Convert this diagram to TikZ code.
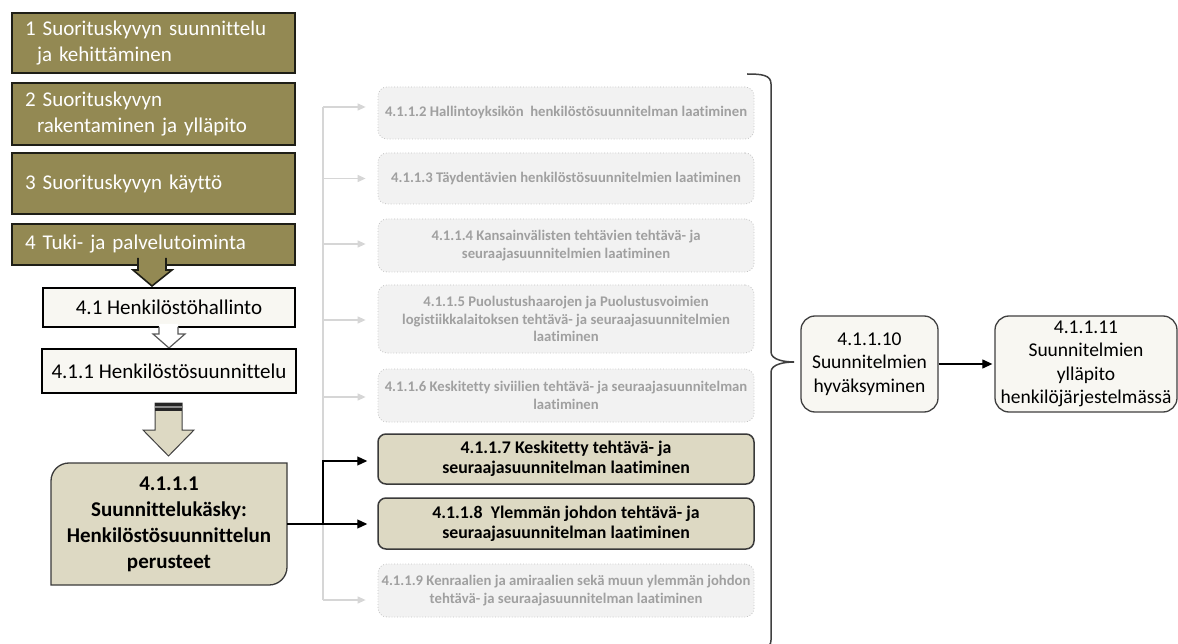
\documentclass[tikz,border=0pt]{standalone}
\usepackage{fontspec}
\setmainfont{Carlito}[Ligatures=CommonOff]
\usetikzlibrary{arrows.meta,calc}

\definecolor{olivefill}{HTML}{938953}
\definecolor{olivedark}{HTML}{1E1E16}
\definecolor{cream}{HTML}{F8F7F2}
\definecolor{tanfill}{HTML}{DDD9C3}
\definecolor{tanline}{HTML}{3A3A3A}
\definecolor{greyfill}{HTML}{F2F2F2}
\definecolor{greyline}{HTML}{C4C4C4}
\definecolor{greytext}{HTML}{A0A0A0}
\definecolor{greyconn}{HTML}{D6D6D6}
\definecolor{darkline}{HTML}{404040}

\newcommand\fsz[2]{\fontsize{#1}{#2}\selectfont}

\begin{document}
\begin{tikzpicture}[x=1pt,y=-1pt,
  olivebox/.style={draw=olivedark, line width=2.4pt, fill=olivefill, text=white,
    align=left, inner xsep=13pt, inner ysep=0pt, minimum width=283pt,
    text width=257pt, font=\fsz{21}{25.5}},
  creambox/.style={draw=black, line width=1.2pt, fill=cream, inner sep=0pt,
    font=\fsz{21}{25}},
  planbox/.style={inner sep=0pt, align=center, font=\bfseries\fsz{21}{26}},
  planshape/.style={draw=tanline, line width=1.3pt, fill=tanfill},
  greybox/.style={draw=greyline, dotted, line width=0.8pt, fill=greyfill,
    rounded corners=9pt, text=greytext, inner sep=0pt, align=center,
    minimum width=376pt, font=\bfseries\fsz{14.7}{17.5}},
  tanbox/.style={draw=tanline, line width=1.5pt, fill=tanfill, rounded corners=8pt,
    inner sep=0pt, align=center, minimum width=376pt, font=\bfseries\fsz{17.8}{20}},
  stagebox/.style={draw=darkline, line width=1.3pt, fill=cream, rounded corners=14pt,
    inner sep=0pt, align=center, minimum height=96pt, font=\fsz{19.5}{23.5}},
  greyarrow/.style={draw=greyconn, line width=1.2pt,
    -{Triangle[length=8pt,width=7pt,fill=greyconn]}, shorten >=12pt},
  blackarrow/.style={draw=black, line width=1.2pt,
    -{Triangle[length=10pt,width=9pt]}, shorten >=10pt},
  bracestyle/.style={draw=darkline, line width=1.5pt}
]
\fill[white] (0,0) rectangle (1178,644);
\path[use as bounding box] (0,0) rectangle (1178,644);

% main process levels
\node[olivebox, minimum height=60pt] (t1) at (153.5,43)
  {1 Suorituskyvyn suunnittelu\\\hspace*{12pt}ja kehittäminen};
\node[olivebox, minimum height=62pt] (t2) at (153.5,114)
  {2 Suorituskyvyn\\\hspace*{12pt}rakentaminen ja ylläpito};
\node[olivebox, minimum height=61pt] (t3) at (153.5,183.5) {3 Suorituskyvyn käyttö};
\node[olivebox, minimum height=41pt] (t4) at (153.5,244.5) {4 Tuki- ja palvelutoiminta};

% block arrow 4 -> 4.1
\fill[olivefill] (138,258) -- (166,258) -- (166,270) -- (172,270) -- (152,286)
  -- (133,270) -- (138,270) -- cycle;
\draw[olivedark, line width=1.6pt, line join=miter] (166,258) -- (166,270) -- (172,270)
  -- (152,286) -- (133,270) -- (138,270) -- (138,258);

\node[creambox, minimum width=252pt, minimum height=39pt] (h41) at (169,307.5)
  {4.1 Henkilöstöhallinto};

% hollow arrow 4.1 -> 4.1.1
\fill[white] (159,324) -- (178,324) -- (178,334) -- (185,334) -- (169,348)
  -- (153,334) -- (159,334) -- cycle;
\draw[black!65, line width=1.2pt] (178,327) -- (178,334) -- (185,334) -- (169,348)
  -- (153,334) -- (159,334) -- (159,327);

\node[creambox, line width=2pt, minimum width=254pt, minimum height=44pt] (h411)
  at (169,371) {4.1.1 Henkilöstösuunnittelu};

% wide arrow 4.1.1 -> 4.1.1.1
\draw[draw=darkline, fill=tanfill, line width=1pt] (155,403) -- (182,403) -- (182,430)
  -- (194,430) -- (168.5,456) -- (143,430) -- (155,430) -- cycle;
\fill[black!85] (155,403) rectangle (182,406);
\fill[black!45] (155,406) rectangle (182,407.8);
\fill[black!85] (155,407.8) rectangle (182,410.8);

% planning order box
\path[planshape] (51,585) -- (51,481) .. controls (51,471) and (59,463) .. (69,463)
  -- (287,463) -- (287,567) .. controls (287,577) and (279,585) .. (269,585) -- cycle;
\node[planbox, minimum width=236pt, minimum height=122pt] (plan) at (169,524)
  {4.1.1.1\\Suunnittelukäsky:\\Henkilöstösuunnittelun\\perusteet};

% sub-plans
\node[greybox, minimum height=52pt] (s2) at (566,113)
  {4.1.1.2 Hallintoyksikön~ henkilöstösuunnitelman laatiminen};
\node[greybox, minimum height=51pt] (s3) at (566,178.5)
  {4.1.1.3 Täydentävien henkilöstösuunnitelmien laatiminen};
\node[greybox, minimum height=53pt] (s4) at (566,245.5)
  {4.1.1.4 Kansainvälisten tehtävien tehtävä- ja\\seuraajasuunnitelmien laatiminen};
\node[greybox, minimum height=68pt] (s5) at (566,319)
  {4.1.1.5 Puolustushaarojen ja Puolustusvoimien\\logistiikkalaitoksen tehtävä- ja seuraajasuunnitelmien\\laatiminen};
\node[greybox, minimum height=53pt] (s6) at (566,395.5)
  {4.1.1.6 Keskitetty siviilien tehtävä- ja seuraajasuunnitelman\\laatiminen};
\node[tanbox, minimum height=50pt] (s7) at (566,459)
  {4.1.1.7 Keskitetty tehtävä- ja\\seuraajasuunnitelman laatiminen};
\node[tanbox, minimum height=51pt] (s8) at (566,523.5)
  {4.1.1.8~ Ylemmän johdon tehtävä- ja\\seuraajasuunnitelman laatiminen};
\node[greybox, minimum height=53pt] (s9) at (566,590.5)
  {4.1.1.9 Kenraalien ja amiraalien sekä muun ylemmän johdon\\tehtävä- ja seuraajasuunnitelman laatiminen};

% grey distribution lines
\coordinate (trunk) at (323,0);
\coordinate (e2) at ([yshift=6pt]s2.west);
\coordinate (e3) at (s3.west);
\coordinate (e4) at ([yshift=1.5pt]s4.west);
\coordinate (e5) at ([yshift=-1pt]s5.west);
\coordinate (e6) at ([yshift=-1.5pt]s6.west);
\coordinate (e9) at ([yshift=-9.5pt]s9.west);
\draw[draw=greyconn, line width=1.2pt] (trunk |- e2) -- (trunk |- e9);
\foreach \e in {e2,e3,e4,e5,e6,e9}
  \draw[greyarrow] (trunk |- \e) -- (\e);

% active branches
\coordinate (jb) at (trunk |- plan.east);
\draw[blackarrow] (plan.east) -- (plan.east -| s8.west);
\draw[blackarrow] (jb) |- ([yshift=-2pt]s7.west);

% brace gathering the sub-plans
\draw[bracestyle] (747,74) .. controls (762,74) and (771,75) .. (771,84) -- (771,352)
  .. controls (771,360) and (785,362) .. (794,362)
  .. controls (785,362) and (771,364) .. (771,372) -- (771,640)
  .. controls (771,649) and (762,650) .. (747,650);

% approval and maintenance
\node[stagebox, minimum width=137pt] (b10) at (869.5,364)
  {4.1.1.10\\Suunnitelmien\\hyväksyminen};
\node[stagebox, minimum width=182pt] (b11) at (1086,364)
  {4.1.1.11\\Suunnitelmien\\ylläpito\\henkilöjärjestelmässä};
\draw[blackarrow, shorten >=2pt] (b10) -- (b11);
\end{tikzpicture}
\end{document}
